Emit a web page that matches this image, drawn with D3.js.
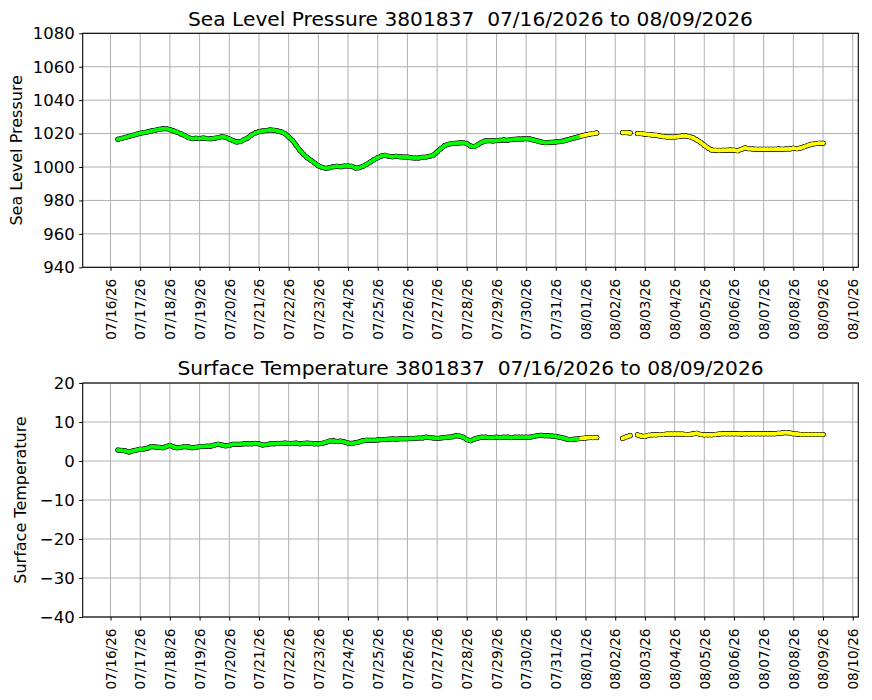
<!DOCTYPE html>
<html>
<head>
<meta charset="utf-8">
<script src="https://cdn.jsdelivr.net/npm/d3@7"></script>
<style>
  body { margin: 0; background: #fff; }
  svg { display: block; font-family: 'DejaVu Sans', sans-serif; }
</style>
</head>
<body>
<svg id="chart" width="872" height="700"></svg>
<script>
// buoy 3801837, one reading every 3 hours starting 07/16/2026 06:00 UTC
const buoyId = '3801837';
const startTime = '2026-07-16T06:00:00Z';
const stepHours = 3;
// readings from this time on are drawn yellow
const yellowFrom = '2026-07-31T21:00:00Z';

// sea level pressure (hPa), null = no reading
const pressure = [
  1016.6, 1017.1, 1017.7, 1018.3, 1018.9, 1019.6,                   // 07/16
  1020.2, 1020.6, 1021.0, 1021.6, 1022.0, 1022.5, 1022.9, 1023.0,   // 07/17
  1022.4, 1021.6, 1020.8, 1019.8, 1018.8, 1017.6, 1017.0, 1017.2,   // 07/18
  1017.0, 1017.3, 1017.0, 1016.9, 1017.2, 1017.6, 1018.2, 1017.8,   // 07/19
  1016.8, 1015.8, 1015.0, 1015.2, 1016.4, 1017.4, 1019.2, 1020.4,   // 07/20
  1021.2, 1021.6, 1021.8, 1022.2, 1022.0, 1021.6, 1021.0, 1020.0,   // 07/21
  1018.0, 1016.0, 1013.0, 1010.0, 1007.6, 1005.6, 1004.0, 1002.4,   // 07/22
  1000.8, 999.8, 999.2, 999.6, 1000.2, 1000.4, 1000.2, 1000.6,      // 07/23
  1000.6, 1000.4, 999.4, 999.6, 1000.4, 1001.6, 1003.0, 1004.4,     // 07/24
  1005.6, 1006.6, 1007.0, 1006.4, 1006.2, 1006.4, 1006.2, 1006.0,   // 07/25
  1006.0, 1005.6, 1005.4, 1005.4, 1005.8, 1006.0, 1006.4, 1007.2,   // 07/26
  1009.0, 1011.0, 1012.8, 1013.6, 1014.0, 1014.2, 1014.4, 1014.6,   // 07/27
  1014.0, 1012.6, 1012.2, 1013.4, 1014.8, 1015.6, 1015.8, 1015.6,   // 07/28
  1015.8, 1016.0, 1016.2, 1016.0, 1016.4, 1016.6, 1016.8, 1016.8,   // 07/29
  1017.0, 1016.8, 1016.2, 1015.6, 1015.0, 1014.6, 1014.6, 1014.8,   // 07/30
  1015.0, 1015.2, 1015.6, 1016.2, 1016.8, 1017.4, 1018.0, 1018.6,   // 07/31
  1019.2, 1019.6, 1020.0, 1020.4, null, null, null, null,           // 08/01
  null, null, 1020.6, 1020.6, 1020.4, null, 1020.0, 1020.0,         // 08/02
  1019.6, 1019.4, 1019.2, 1019.0, 1018.6, 1018.2, 1018.0, 1018.0,   // 08/03
  1018.0, 1018.2, 1018.6, 1018.6, 1018.2, 1017.4, 1016.2, 1014.8,   // 08/04
  1013.0, 1011.4, 1010.2, 1010.0, 1009.9, 1010.0, 1010.0, 1010.2,   // 08/05
  1010.0, 1009.8, 1010.6, 1011.4, 1011.0, 1010.8, 1010.6, 1010.6,   // 08/06
  1010.6, 1010.6, 1010.6, 1010.6, 1010.8, 1010.6, 1010.8, 1010.8,   // 08/07
  1011.2, 1011.0, 1011.4, 1012.2, 1013.0, 1013.6, 1014.0, 1014.2,   // 08/08
  1014.2                                                            // 08/09
];

// surface temperature (deg C)
const temperature = [
  2.8, 2.7, 2.6, 2.3, 2.6, 2.8,             // 07/16
  3.0, 3.1, 3.3, 3.7, 3.6, 3.5, 3.4, 3.7,   // 07/17
  4.0, 3.6, 3.4, 3.5, 3.7, 3.6, 3.4, 3.5,   // 07/18
  3.7, 3.7, 3.8, 3.8, 4.1, 4.3, 4.1, 3.9,   // 07/19
  4.0, 4.3, 4.3, 4.3, 4.4, 4.4, 4.4, 4.5,   // 07/20
  4.4, 4.1, 4.2, 4.4, 4.4, 4.5, 4.5, 4.6,   // 07/21
  4.5, 4.5, 4.6, 4.4, 4.5, 4.6, 4.5, 4.4,   // 07/22
  4.4, 4.5, 4.8, 5.1, 5.2, 5.0, 5.1, 4.9,   // 07/23
  4.6, 4.5, 4.7, 4.9, 5.2, 5.3, 5.3, 5.3,   // 07/24
  5.4, 5.5, 5.5, 5.6, 5.7, 5.6, 5.7, 5.7,   // 07/25
  5.7, 5.8, 5.8, 5.9, 5.9, 6.1, 6.0, 5.9,   // 07/26
  5.8, 5.9, 6.0, 6.1, 6.2, 6.5, 6.4, 6.1,   // 07/27
  5.5, 5.2, 5.6, 5.9, 6.1, 6.1, 6.0, 6.0,   // 07/28
  6.1, 6.0, 6.1, 6.1, 6.0, 6.1, 6.1, 6.1,   // 07/29
  6.1, 6.1, 6.3, 6.5, 6.6, 6.5, 6.5, 6.4,   // 07/30
  6.3, 6.1, 5.9, 5.6, 5.5, 5.6, 5.7, 5.8,   // 07/31
  5.9, 6.0, 6.0, 6.0, null, null, null, null, // 08/01
  null, null, 5.8, 6.2, 6.5, null, 6.7, 6.4,  // 08/02
  6.3, 6.6, 6.7, 6.7, 6.8, 6.8, 6.9, 6.9,   // 08/03
  6.9, 6.9, 6.9, 6.8, 6.8, 7.0, 7.1, 6.8,   // 08/04
  6.7, 6.7, 6.7, 6.8, 6.9, 7.0, 7.0, 7.0,   // 08/05
  7.0, 7.0, 6.9, 7.0, 7.0, 7.0, 7.0, 7.0,   // 08/06
  7.0, 7.0, 7.0, 7.0, 7.1, 7.2, 7.3, 7.2,   // 08/07
  7.0, 6.9, 6.8, 6.8, 6.8, 6.8, 6.8, 6.8,   // 08/08
  6.8                                       // 08/09
];

const pressureTicks = [940, 960, 980, 1000, 1020, 1040, 1060, 1080];
const temperatureTicks = [-40, -30, -20, -10, 0, 10, 20];

const green = '#00ff00';
const yellow = '#ffff00';

const svg = d3.select('#chart');
const fmtDay = d3.utcFormat('%m/%d/%y');
const fmtTitle = d3.utcFormat('%m/%d/%Y');

let t0 = new Date(startTime);
let times = pressure.map((d, i) => new Date(+t0 + i * stepHours * 3600e3));
let tYellow = new Date(yellowFrom);

// matplotlib style 5% margin around the data
let valid = times.filter((t, i) => pressure[i] != null);
let tMin = d3.min(valid), tMax = d3.max(valid);
let pad = (tMax - tMin) * 0.05;

let x = d3.scaleUtc()
  .domain([new Date(+tMin - pad), new Date(+tMax + pad)])
  .range([82.7, 858.3]);

let days = d3.utcDay.range(d3.utcDay.floor(tMin), d3.utcDay.offset(d3.utcDay.floor(tMax), 2));

function panel(top, values, yTicks, label, labelX, titleText) {
  let bottom = top + 234;
  let y = d3.scaleLinear()
    .domain([yTicks[0], yTicks[yTicks.length - 1]])
    .range([bottom, top]);

  let g = svg.append('g');

  // grid
  g.append('g').selectAll('line')
    .data(days).join('line')
    .attr('x1', (d) => x(d)).attr('x2', (d) => x(d))
    .attr('y1', top).attr('y2', bottom)
    .attr('stroke', '#b0b0b0').attr('stroke-width', 1);
  g.append('g').selectAll('line')
    .data(yTicks).join('line')
    .attr('x1', x.range()[0]).attr('x2', x.range()[1])
    .attr('y1', (d) => y(d)).attr('y2', (d) => y(d))
    .attr('stroke', '#b0b0b0').attr('stroke-width', 1);

  // markers: split into runs (gaps) so the dense readings read as
  // one outlined band, like overlapping scatter dots
  let pts = values.map((v, i) => ({ t: times[i], v: v, i: i }))
    .filter((d) => d.v != null)
    .map((d) => ({ ...d, c: d.t >= tYellow ? yellow : green }));
  let runs = [];
  pts.forEach((d, k) => {
    let prev = pts[k - 1];
    if (!prev || prev.i !== d.i - 1) runs.push([d]);
    else runs[runs.length - 1].push(d);
  });

  let line = d3.line().x((d) => x(d.t)).y((d) => y(d.v));
  let marks = g.append('g');

  // outline layer
  marks.selectAll('path.edge')
    .data(runs).join('path')
    .attr('class', 'edge')
    .attr('d', line)
    .attr('fill', 'none').attr('stroke', '#1a1a1a')
    .attr('stroke-width', 5).attr('stroke-linejoin', 'round').attr('stroke-linecap', 'round');
  marks.selectAll('circle.edge')
    .data(pts).join('circle')
    .attr('class', 'edge')
    .attr('cx', (d) => x(d.t)).attr('cy', (d) => y(d.v))
    .attr('r', 2.6).attr('fill', '#1a1a1a');

  // colour layer, each segment takes the colour of its later point
  let segs = [];
  runs.forEach((r) => {
    for (let k = 1; k < r.length; k++) segs.push([r[k - 1], r[k]]);
  });
  marks.selectAll('path.fill')
    .data(segs).join('path')
    .attr('class', 'fill')
    .attr('d', line)
    .attr('fill', 'none').attr('stroke', (d) => d[1].c)
    .attr('stroke-width', 3.5).attr('stroke-linecap', 'round');
  marks.selectAll('circle.fill')
    .data(pts).join('circle')
    .attr('class', 'fill')
    .attr('cx', (d) => x(d.t)).attr('cy', (d) => y(d.v))
    .attr('r', 1.85).attr('fill', (d) => d.c);

  // frame
  g.append('rect')
    .attr('x', x.range()[0]).attr('y', top)
    .attr('width', x.range()[1] - x.range()[0]).attr('height', bottom - top)
    .attr('fill', 'none').attr('stroke', '#000').attr('stroke-width', 1.1);

  // axes
  let yAxis = g.append('g')
    .attr('transform', `translate(${x.range()[0]},0)`)
    .call(d3.axisLeft(y).tickValues(yTicks).tickFormat(d3.format('d'))
      .tickSize(3.5).tickPadding(4.5));
  yAxis.select('.domain').remove();
  yAxis.selectAll('text').attr('font-size', '16.5px').attr('fill', '#000')
    .attr('font-family', 'DejaVu Sans');

  let xAxis = g.append('g')
    .attr('transform', `translate(0,${bottom})`)
    .call(d3.axisBottom(x).tickValues(days).tickFormat(fmtDay).tickSize(3.5));
  xAxis.select('.domain').remove();
  xAxis.selectAll('text')
    .attr('y', 0).attr('dy', '0.35em')
    .attr('transform', 'translate(0,11.5) rotate(-90)')
    .attr('text-anchor', 'end')
    .attr('font-size', '13.6px').attr('fill', '#000')
    .attr('font-family', 'DejaVu Sans');

  // y label
  g.append('text')
    .attr('transform', `translate(${labelX},${(top + bottom) / 2}) rotate(-90)`)
    .attr('text-anchor', 'middle')
    .attr('font-size', '16px')
    .text(label);

  // title
  g.append('text')
    .attr('x', (x.range()[0] + x.range()[1]) / 2)
    .attr('y', top - 7.6)
    .attr('text-anchor', 'middle')
    .attr('font-size', '20.2px')
    .attr('xml:space', 'preserve')
    .style('white-space', 'pre')
    .text(titleText);
}

let span = `${buoyId}  ${fmtTitle(tMin)} to ${fmtTitle(tMax)}`;
panel(33.3, pressure, pressureTicks, 'Sea Level Pressure', 21.7, `Sea Level Pressure ${span}`);
panel(383, temperature, temperatureTicks, 'Surface Temperature', 26, `Surface Temperature ${span}`);
</script>
</body>
</html>
